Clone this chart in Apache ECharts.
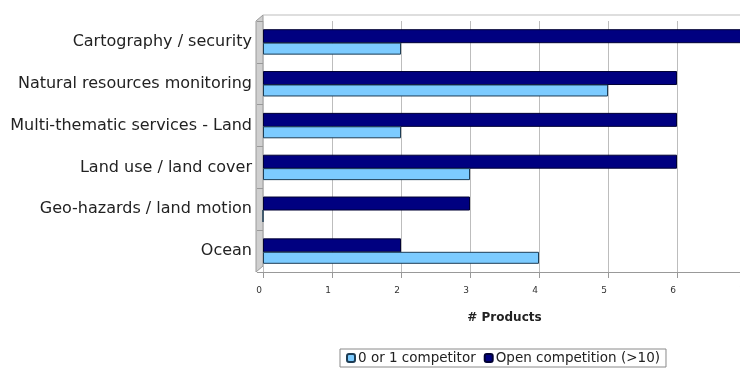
<!DOCTYPE html>
<html>
<head>
<meta charset="utf-8">
<script src="https://cdn.jsdelivr.net/npm/echarts@6/dist/echarts.min.js"></script>
<style>
  html, body { margin: 0; padding: 0; background: #ffffff; }
  #chart { width: 740px; height: 372px; }
</style>
</head>
<body>
<div id="chart"></div>
<script>
// Product categories, listed top to bottom
const categories = [
  'Cartography / security',
  'Natural resources monitoring',
  'Multi-thematic services - Land',
  'Land use / land cover',
  'Geo-hazards / land motion',
  'Ocean'
];
// Number of products per competition level
const lowCompetition = [2, 5, 2, 3, 0, 4];
const openCompetition = [7, 6, 6, 6, 3, 2];
const seriesNames = ['0 or 1 competitor', 'Open competition (>10)'];
const xTicks = [0, 1, 2, 3, 4, 5, 6, 7];

const chart = echarts.init(document.getElementById('chart'));
chart.setOption({
  animation: false,
  grid: {
    left: 263, top: 21, width: 483, height: 251,
    containLabel: false, outerBoundsMode: 'none'
  },
  // shaded side wall and top edge of the plot box
  graphic: [
    {
      type: 'polygon', z: -1, silent: true,
      shape: { points: [[256, 21], [263, 15], [263, 266], [256, 272]] },
      style: { fill: '#cfcfcf', stroke: '#9a9a9a', lineWidth: 1 }
    },
    {
      type: 'line', z: -1, silent: true,
      shape: { x1: 263, y1: 15, x2: 740, y2: 15 },
      style: { stroke: '#bdbdbd', lineWidth: 1 }
    }
  ],
  legend: {
    data: seriesNames,
    bottom: 5,
    left: 340,
    itemWidth: 8,
    itemHeight: 8,
    itemGap: 8,
    padding: [2, 6],
    borderColor: '#8a8a8a',
    borderWidth: 1,
    borderRadius: 0,
    textStyle: { fontFamily: 'DejaVu Sans', fontSize: 13.5, color: '#222', padding: [0, 0, 0, -2] }
  },
  xAxis: {
    type: 'value',
    min: 0,
    max: 7,
    interval: 1,
    name: '# Products',
    nameLocation: 'middle',
    nameGap: 40,
    nameTextStyle: { fontFamily: 'DejaVu Sans', fontSize: 12, fontWeight: 'bold', color: '#222' },
    axisLine: { show: true, lineStyle: { color: '#999' } },
    axisTick: { show: true, length: 6, lineStyle: { color: '#999' } },
    axisLabel: {
      fontFamily: 'DejaVu Sans', fontSize: 9, color: '#333', margin: 14,
      padding: [0, 8, 0, 0],
      formatter: v => xTicks.includes(v) ? String(v) : ''
    },
    splitLine: { show: true, lineStyle: { color: '#bdbdbd', width: 1 } }
  },
  yAxis: {
    type: 'category',
    data: categories,
    inverse: true,
    axisLine: { show: false },
    axisTick: { show: true, length: 6, lineStyle: { color: '#999' } },
    axisLabel: { fontFamily: 'DejaVu Sans', fontSize: 16, color: '#222', margin: 11 }
  },
  series: [
    {
      name: seriesNames[1],
      type: 'bar',
      data: openCompetition,
      barWidth: 14,
      barGap: '-4%',
      itemStyle: { color: '#000080', borderColor: '#000033', borderWidth: 1 }
    },
    {
      name: seriesNames[0],
      type: 'bar',
      data: lowCompetition,
      barWidth: 12,
      itemStyle: { color: '#7ccbff', borderColor: '#1d3d55', borderWidth: 1 }
    }
  ]
});
</script>
</body>
</html>
